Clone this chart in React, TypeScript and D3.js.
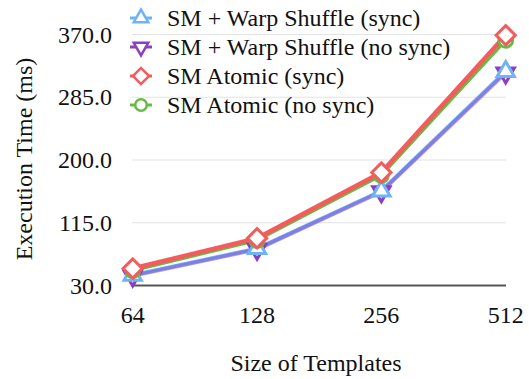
import React, { useEffect, useState } from "react";
import * as d3 from "d3";

const categories = ["64", "128", "256", "512"];
const yTicks = [30, 115, 200, 285, 370];
const seriesNames = [
  "SM + Warp Shuffle (sync)",
  "SM + Warp Shuffle (no sync)",
  "SM Atomic (sync)",
  "SM Atomic (no sync)",
];
const warpSync = [44, 80, 158, 320];
const warpNoSync = [43, 79, 157, 318];
const atomicSync = [53, 94, 183, 369];
const atomicNoSync = [50, 91, 179, 362];

const W = 529;
const H = 379;

type S = { name: string; values: number[]; color: string; lineColor: string; width: number; opacity: number; marker: string };

const series: S[] = [
  { name: seriesNames[0], values: warpSync, color: "#6fb3f5", lineColor: "#6fb3f5", width: 4, opacity: 1, marker: "triUp" },
  { name: seriesNames[1], values: warpNoSync, color: "#8a3fc0", lineColor: "#8a5cd6", width: 4, opacity: 0.6, marker: "triDown" },
  { name: seriesNames[3], values: atomicNoSync, color: "#66bb44", lineColor: "#66bb44", width: 3, opacity: 1, marker: "circle" },
  { name: seriesNames[2], values: atomicSync, color: "#f45b5b", lineColor: "#f45b5b", width: 4.5, opacity: 1, marker: "diamond" },
];

function markerPath(kind: string, size: number): string {
  const sym =
    kind === "circle" ? d3.symbolCircle :
    kind === "diamond" ? d3.symbolSquare :
    d3.symbolTriangle;
  return d3.symbol().type(sym).size(size)() || "";
}

function Marker({ kind, x, y, color, scale = 1 }: { kind: string; x: number; y: number; color: string; scale?: number }) {
  let rot = 0;
  let size = 130;
  if (kind === "triDown") rot = 180;
  if (kind === "diamond") { rot = 45; size = 185; }
  if (kind === "circle") size = 150;
  return (
    <path
      d={markerPath(kind, size * scale)}
      transform={`translate(${x},${y}) rotate(${rot})`}
      fill="#fff"
      stroke={color}
      strokeWidth={3 * Math.sqrt(scale)}
    />
  );
}

export default function App() {
  const [, setTick] = useState(0);
  useEffect(() => {
    const f = (document as any).fonts;
    if (f && f.load) {
      f.load("24px 'Liberation Serif'").then(() => setTick((t) => t + 1)).catch(() => {});
    }
  }, []);

  const x = d3.scalePoint<string>().domain(categories).range([132.7, 505.7]).padding(0);
  const y = d3.scaleLinear().domain([30, 370]).range([285.5, 34.5]);
  const line = d3
    .line<number>()
    .x((_, i) => x(categories[i]) as number)
    .y((d) => y(d));

  const legendOrder = [
    { name: seriesNames[0], color: "#6fb3f5", marker: "triUp" },
    { name: seriesNames[1], color: "#8a3fc0", marker: "triDown" },
    { name: seriesNames[2], color: "#f45b5b", marker: "diamond" },
    { name: seriesNames[3], color: "#66bb44", marker: "circle" },
  ];

  const markerOrder = [series[1], series[0], series[2], series[3]];

  return (
    <svg width={W} height={H} style={{ position: "absolute", left: 0, top: 0, background: "#fff" }}>
      <style>{`text { font-family: 'Liberation Serif', 'Times New Roman', Tinos; font-size: 24px; fill: #111; }`}</style>
      {yTicks.slice(1).map((t) => (
        <line key={t} x1={132} x2={506} y1={y(t)} y2={y(t)} stroke="#e3e3e3" strokeWidth={1} />
      ))}
      <line x1={132} x2={506} y1={y(30)} y2={y(30)} stroke="#555" strokeWidth={2} />
      {yTicks.map((t) => (
        <text key={t} x={112} y={y(t)} textAnchor="end" dominantBaseline="central">
          {d3.format(".1f")(t)}
        </text>
      ))}
      {categories.map((c) => (
        <text key={c} x={x(c)} y={323} textAnchor="middle">
          {c}
        </text>
      ))}
      <text x={316} y={371} textAnchor="middle">Size of Templates</text>
      <text transform="translate(32,159) rotate(-90)" textAnchor="middle">
        Execution Time (ms)
      </text>

      {series.map((s) => (
        <path key={s.name} d={line(s.values) || ""} fill="none" stroke={s.lineColor} strokeWidth={s.width} strokeOpacity={s.opacity} strokeLinejoin="round" />
      ))}
      {markerOrder.map((s) =>
        s.values.map((v, i) => (
          <Marker key={s.name + i} kind={s.marker} x={x(categories[i]) as number} y={y(v)} color={s.color} />
        ))
      )}

      {legendOrder.map((l, i) => {
        const ly = 18 + i * 29;
        return (
          <g key={l.name}>
            <line x1={130} x2={152} y1={ly} y2={ly} stroke={l.color} strokeWidth={3} />
            <Marker kind={l.marker} x={141} y={ly} color={l.color} scale={0.7} />
            <text x={167} y={ly} dominantBaseline="central">{l.name}</text>
          </g>
        );
      })}
    </svg>
  );
}
